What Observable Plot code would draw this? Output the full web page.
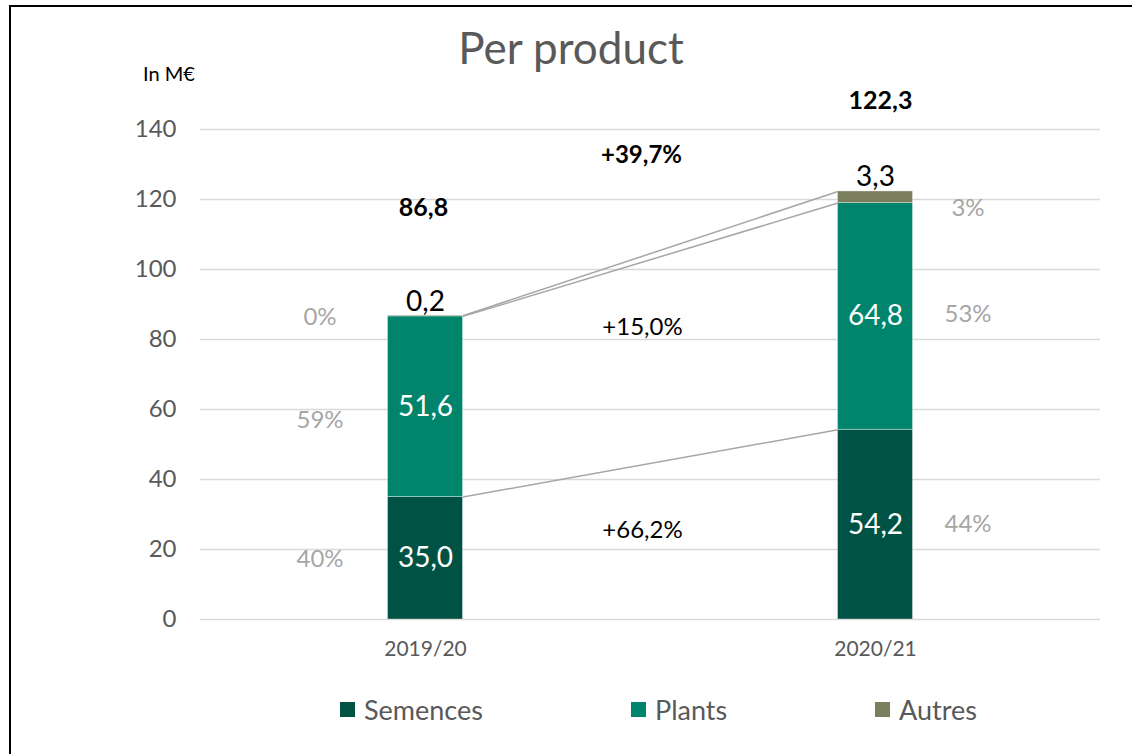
<!DOCTYPE html>
<html>
<head>
<meta charset="utf-8">
<script src="https://cdn.jsdelivr.net/npm/d3@7"></script>
<script src="https://cdn.jsdelivr.net/npm/@observablehq/plot@0.6"></script>
<style>
  html, body { margin: 0; padding: 0; background: #fff; }
  body { width: 1132px; height: 754px; overflow: hidden; position: relative; font-family: Lato, "Open Sans", sans-serif; }
  #frame { position: absolute; left: 9px; top: 5px; width: 1140px; height: 760px; border-left: 2px solid #000; border-top: 2px solid #000; box-sizing: border-box; }
  #title { position: absolute; left: 0; width: 1142px; top: 19px; text-align: center; font-size: 44px; color: #595959; line-height: 56px; }
  #unit { position: absolute; left: 143px; top: 61px; font-size: 20px; color: #000; line-height: 24px; }
  #chart { position: absolute; left: 0; top: 0; }
  .leg { position: absolute; top: 693px; height: 32px; display: flex; align-items: center; font-size: 27px; color: #595959; }
  .leg .sw { width: 15px; height: 15px; margin-right: 9px; }
</style>
</head>
<body>
<div id="frame"></div>
<div id="chart"></div>
<div id="title">Per product</div>
<div id="unit">In M€</div>
<div id="legend"></div>
<script>
// ---- data ----
const years = ["2019/20", "2020/21"];
const categories = ["Semences", "Plants", "Autres"];
const semences = [35.0, 54.2];
const plants = [51.6, 64.8];
const autres = [0.2, 3.3];
const totals = [86.8, 122.3];
const growthLabels = ["+66,2%", "+15,0%", "+39,7%"];
const yTicks = [0, 20, 40, 60, 80, 100, 120, 140];
const colors = ["#005344", "#00846C", "#7B7F5E"];

// ---- build ----
const series = [semences, plants, autres];
const fmt = v => v.toFixed(1).replace(".", ",");
const w = 75 / 450; // bar width in band units
const rows = [];
years.forEach((yr, i) => {
  let acc = 0;
  categories.forEach((c, k) => {
    const v = series[k][i];
    rows.push({year: yr, i, cat: c, k, value: v, y1: acc, y2: acc + v, total: totals[i]});
    acc += v;
  });
});
const boundaries = [0, 1, 2].map(k => ({
  y1: rows.find(r => r.i === 0 && r.k === k).y2,
  y2: rows.find(r => r.i === 1 && r.k === k).y2
}));
const inside = rows.filter(r => r.k < 2);
const above = rows.filter(r => r.k === 2);
const growthY = [25.4, 83.4, 132.6];
const growth = growthLabels.map((g, j) => ({label: g, y: growthY[j], bold: j === 2}));
const totalDy = [-108, -90];
// label nudges (pixels) for percentage labels, per year and category
const pctDy = [[1, 14, 1], [0, -2, 11]];

const chart = Plot.plot({
  width: 1132,
  height: 680,
  marginLeft: 200,
  marginRight: 32,
  marginTop: 129,
  marginBottom: 61,
  style: {fontFamily: "Lato, 'Open Sans', sans-serif", background: "transparent", overflow: "visible"},
  x: {domain: [0, 2], axis: null},
  y: {domain: [0, 140], axis: null},
  color: {domain: categories, range: colors},
  marks: [
    Plot.gridY(yTicks, {stroke: "#d9d9d9", strokeOpacity: 1, strokeWidth: 1.5}),
    Plot.axisY(yTicks, {tickSize: 0, tickPadding: 24, fontSize: 24, fill: "#595959", label: null}),
    Plot.axisX([0.5, 1.5], {tickSize: 0, tickPadding: 22, fontSize: 21, fill: "#595959", label: null,
      tickFormat: d => years[Math.floor(d)]}),
    Plot.rect(rows, {x1: r => r.i + 0.5 - w / 2, x2: r => r.i + 0.5 + w / 2, y1: "y1", y2: "y2",
      fill: "cat", stroke: "#ffffff", strokeOpacity: 0.35, strokeWidth: 1}),
    Plot.link(boundaries, {x1: 0.5 + w / 2, x2: 1.5 - w / 2, y1: "y1", y2: "y2", stroke: "#a6a6a6", strokeWidth: 1.5}),
    Plot.text(inside, {x: r => r.i + 0.5, y: r => (r.y1 + r.y2) / 2, text: r => fmt(r.value),
      fill: "#ffffff", fontSize: 28}),
    Plot.text(above, {x: r => r.i + 0.5, y: "y2", text: r => fmt(r.value), fill: "#000", fontSize: 28, dy: -14}),
    ...rows.map(r => Plot.text([r], {
      x: r.i === 0 ? r.i + 0.5 - w / 2 : r.i + 0.5 + w / 2,
      dx: r.i === 0 ? -68 : 55,
      dy: pctDy[r.i][r.k],
      y: (r.y1 + r.y2) / 2,
      text: d => Math.round(d.value / d.total * 100) + "%", fill: "#a6a6a6", fontSize: 24})),
    ...totals.map((t, i) => Plot.text([t], {x: i + 0.5, y: d => d, dy: totalDy[i], dx: i === 0 ? -2 : 5,
      text: d => fmt(d), fill: "#000", fontSize: 25, fontWeight: "bold"})),
    Plot.text(growth.filter(d => !d.bold), {x: 1, dx: -8, y: "y", text: "label", fill: "#000", fontSize: 24}),
    Plot.text(growth.filter(d => d.bold), {x: 1, dx: -9, y: "y", text: "label", fill: "#000", fontSize: 24, fontWeight: "bold"})
  ]
});
document.getElementById("chart").appendChild(chart);

// legend
const legendX = [340, 631, 875];
const leg = document.getElementById("legend");
categories.forEach((c, k) => {
  const el = document.createElement("div");
  el.className = "leg";
  el.style.left = legendX[k] + "px";
  el.innerHTML = `<span class="sw" style="background:${colors[k]}"></span><span>${c}</span>`;
  leg.appendChild(el);
});
</script>
</body>
</html>
